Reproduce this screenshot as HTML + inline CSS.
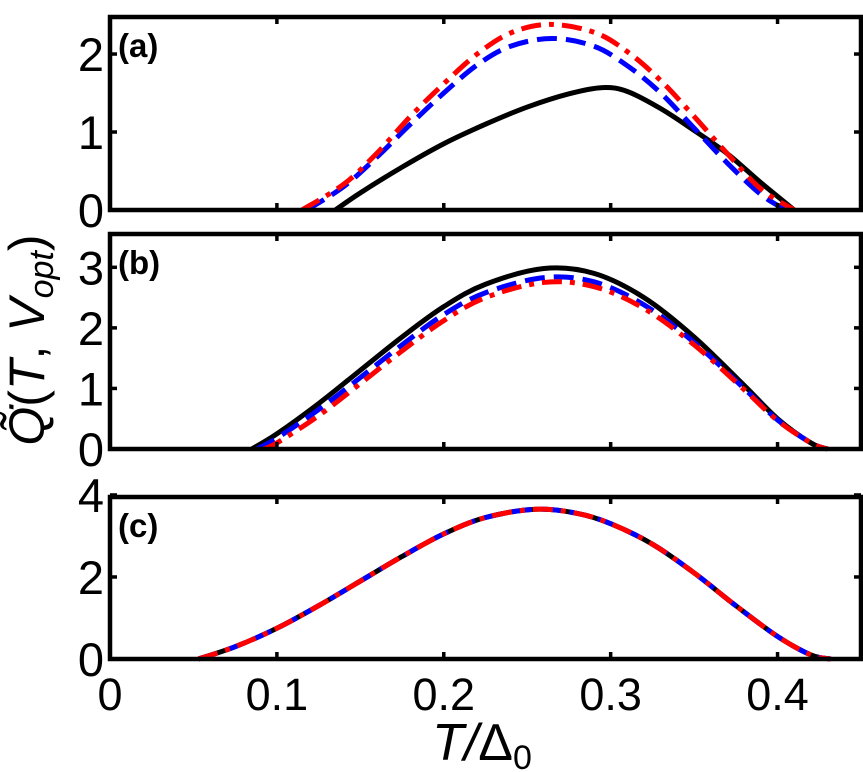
<!DOCTYPE html>
<html><head><meta charset="utf-8"><style>
body{margin:0;background:#fff;width:863px;height:772px;overflow:hidden}
svg{display:block}
text{font-family:"Liberation Sans",sans-serif}
</style></head><body>
<svg id="chart" width="863" height="772"></svg>
<script>
const xTicks=[0,0.1,0.2,0.3,0.4];
const xTickLabels=["0","0.1","0.2","0.3","0.4"];
const aX_black=[0.135,0.15,0.175,0.2,0.225,0.25,0.275,0.295,0.31,0.33,0.35,0.37,0.39,0.41];
const aY_black=[0,0.22,0.55,0.85,1.1,1.32,1.49,1.57,1.52,1.3,1.02,0.72,0.35,0];
const aX_blue=[0.118,0.14,0.16,0.18,0.2,0.22,0.24,0.265,0.29,0.31,0.33,0.35,0.37,0.39,0.405];
const aY_blue=[0,0.3,0.68,1.1,1.5,1.86,2.1,2.2,2.1,1.85,1.5,1.05,0.6,0.2,0];
const aX_red=[0.115,0.14,0.16,0.18,0.2,0.22,0.24,0.263,0.29,0.31,0.33,0.35,0.37,0.39,0.41];
const aY_red=[0,0.33,0.73,1.2,1.62,2.0,2.27,2.38,2.28,2.03,1.66,1.2,0.72,0.27,0];
const bX_black=[0.085,0.1,0.125,0.15,0.175,0.2,0.225,0.26,0.29,0.32,0.35,0.38,0.4,0.42,0.43];
const bY_black=[0,0.25,0.75,1.3,1.85,2.35,2.72,2.98,2.9,2.5,1.85,1.05,0.5,0.1,0];
const bX_blue=[0.088,0.1,0.125,0.15,0.175,0.2,0.225,0.26,0.29,0.32,0.35,0.38,0.4,0.42,0.43];
const bY_blue=[0,0.18,0.65,1.18,1.72,2.22,2.58,2.83,2.76,2.38,1.76,1.0,0.48,0.1,0];
const bX_red=[0.092,0.1,0.125,0.15,0.175,0.2,0.225,0.26,0.29,0.32,0.35,0.38,0.4,0.42,0.43];
const bY_red=[0,0.1,0.55,1.08,1.62,2.12,2.5,2.75,2.68,2.32,1.72,0.98,0.47,0.1,0];
const cX=[0.053,0.075,0.1,0.125,0.15,0.175,0.2,0.225,0.255,0.28,0.3,0.325,0.35,0.375,0.4,0.42,0.432];
const cY=[0,0.3,0.75,1.3,1.9,2.5,3.05,3.45,3.65,3.55,3.3,2.8,2.1,1.3,0.55,0.1,0];

const svg=document.getElementById('chart');
const NS='http://www.w3.org/2000/svg';
function mk(tag,attrs,parent){const e=document.createElementNS(NS,tag);for(const k in attrs)e.setAttribute(k,attrs[k]);(parent||svg).appendChild(e);return e;}
const X0=110,X1=861,XMAX=0.45;
const xs=v=>X0+(X1-X0)*v/XMAX;
const DASH='20 9',DASHDOT='20 8 5 8';
const panels=[
 {name:'a',top:17,bottom:210,ymax:2.475,yt:[0,1,2],series:[[aX_black,aY_black,'#000',''],[aX_blue,aY_blue,'#0000ff',DASH],[aX_red,aY_red,'#ff0000',DASHDOT]]},
 {name:'b',top:234,bottom:449,ymax:3.55,yt:[0,1,2,3],series:[[bX_black,bY_black,'#000',''],[bX_blue,bY_blue,'#0000ff',DASH],[bX_red,bY_red,'#ff0000',DASHDOT]]},
 {name:'c',top:497,bottom:659,ymax:3.95,yt:[0,2,4],series:[[cX,cY,'#000',''],[cX,cY,'#0000ff',DASH],[cX,cY,'#ff0000',DASHDOT]]}
];
function path(px,py){
 const p=px.map((x,i)=>[x,py[i]]);let d='M'+p[0][0]+','+p[0][1];
 for(let i=0;i<p.length-1;i++){const p0=p[Math.max(0,i-1)],p1=p[i],p2=p[i+1],p3=p[Math.min(p.length-1,i+2)];
  const c1=[p1[0]+(p2[0]-p0[0])/6,p1[1]+(p2[1]-p0[1])/6],c2=[p2[0]-(p3[0]-p1[0])/6,p2[1]-(p3[1]-p1[1])/6];
  d+=' C'+c1+' '+c2+' '+p2;}
 return d;}
panels.forEach(P=>{
 const g=mk('g',{});
 
 
 const ys=v=>P.bottom-(P.bottom-P.top)*v/P.ymax;
 P.series.forEach((s,i)=>{
  const pl=mk('path',{d:path(s[0].map(xs),s[1].map(ys)),fill:'none',stroke:s[2],'stroke-width':5,'stroke-dasharray':s[3]||'none'},g);
  
  
 });
 const fr=mk('rect',{x:X0,y:P.top,width:X1-X0,height:P.bottom-P.top,fill:'none',stroke:'#000','stroke-width':4.5},g);
 
 
 xTicks.forEach(t=>{const x=xs(t);mk('line',{x1:x,x2:x,y1:P.bottom,y2:P.bottom-7,stroke:'#000','stroke-width':3.5},g);mk('line',{x1:x,x2:x,y1:P.top,y2:P.top+7,stroke:'#000','stroke-width':3.5},g);});
 P.yt.forEach(t=>{const y=ys(t);mk('line',{x1:X0,x2:X0+7,y1:y,y2:y,stroke:'#000','stroke-width':3.5},g);mk('line',{x1:X1,x2:X1-7,y1:y,y2:y,stroke:'#000','stroke-width':3.5},g);
  const tl=mk('text',{x:X0-6,y:y+17,'text-anchor':'end','font-size':47},g);tl.textContent=t;
  
  });
 const lb=mk('text',{x:X0+8,y:P.top+40,'font-size':33,'font-weight':'bold'},g);lb.textContent='('+P.name+')';
 
 
});
xTicks.forEach((t,i)=>{const tl=mk('text',{x:xs(t),y:710,'text-anchor':'middle','font-size':45});tl.textContent=xTickLabels[i];
 
 });
const xl=mk('text',{x:482,y:760,'text-anchor':'middle','font-size':52,'font-style':'italic','font-family':'Liberation Serif, serif'});
xl.innerHTML='T/<tspan font-style="normal">Δ</tspan><tspan font-size="34" dy="9" font-style="normal">0</tspan>';


const yl=mk('text',{x:0,y:0,transform:'translate(44,340) rotate(-90)','text-anchor':'middle','font-size':50,'font-style':'italic','font-family':'Liberation Serif, serif'});
yl.innerHTML='Q̃̇<tspan font-style="normal">(</tspan>T<tspan font-style="normal">, </tspan>V<tspan font-size="34" dy="9">opt</tspan><tspan font-style="normal" dy="-9">)</tspan>';


</script>
</body></html>
